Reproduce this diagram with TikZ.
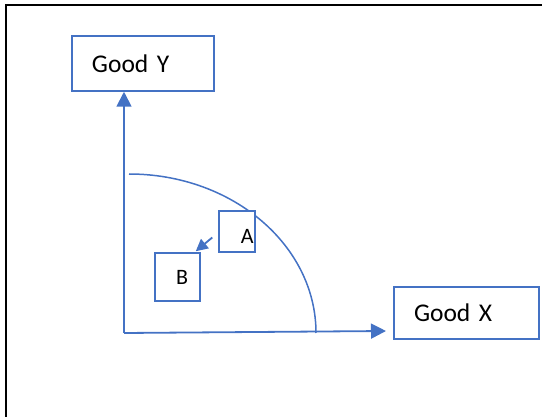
\documentclass[tikz,border=0pt]{standalone}
\usepackage{fontspec}
\setmainfont{Carlito}
\usetikzlibrary{arrows.meta}
\definecolor{officeblue}{HTML}{4472C4}
\begin{document}
\begin{tikzpicture}[x=1pt,y=-1pt,
  labelbox/.style={draw=officeblue, line width=1.5pt, fill=white, rectangle, inner ysep=0pt},
  bigtext/.style={font=\fontsize{25.5}{30}\selectfont},
  smalltext/.style={font=\fontsize{22}{26}\selectfont},
  axisline/.style={draw=officeblue, line width=1.8pt, -{Triangle[length=15pt,width=15pt]}},
  shiftline/.style={draw=officeblue, line width=1.8pt, -{Triangle[length=12pt,width=12pt]}},
  ]
\useasboundingbox (0,0) rectangle (542,417);
% outer frame
\draw[line width=2pt] (6,420) -- (6,5) -- (545,5);

% axis labels
\node[labelbox, bigtext, minimum height=55pt, text width=102pt, align=left, inner xsep=20pt] (goody) at (143,63.5) {Good Y};
\node[labelbox, bigtext, minimum height=52pt, text width=105pt, align=left, inner xsep=20pt] (goodx) at (466.5,313) {Good X};

% axes
\coordinate (O) at (124,333);
\coordinate (tipx) at (386,331);
\draw[axisline] (O) -- (O |- goody.south);
\draw[axisline] (O) -- (tipx);

% production possibility frontier
\draw[officeblue, line width=1.5pt] (129,174) arc[start angle=90, end angle=0, x radius=187pt, y radius=159pt];

% points A and B
\node[labelbox, smalltext, minimum height=41pt, text width=33pt, align=right, inner xsep=1.5pt] (A) at (237,231.5) {\raisebox{-5pt}[\height][\depth]{A}};
\node[labelbox, smalltext, minimum height=48pt, minimum width=45pt, inner xsep=0pt] (B) at (177.5,277) {\hspace*{9pt}B};

\draw[shiftline] ([shift={(-6,6)}]A.west) -- ([shift={(-5,-1)}]B.north east);
\end{tikzpicture}
\end{document}
